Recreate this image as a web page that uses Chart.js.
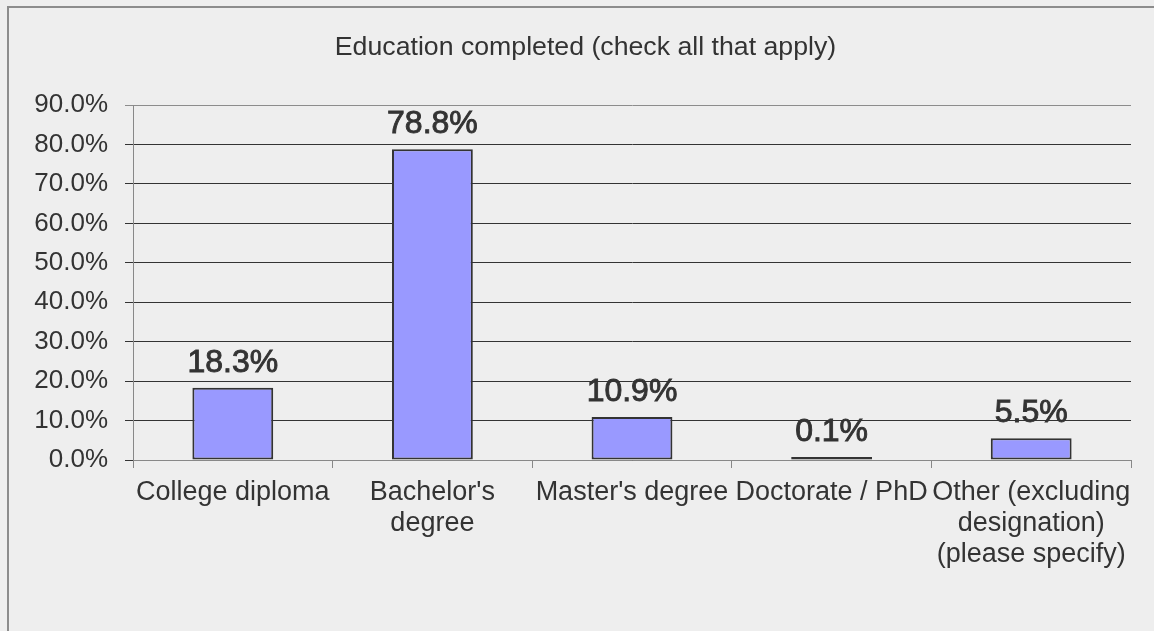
<!DOCTYPE html>
<html>
<head>
<meta charset="utf-8">
<script src="https://cdn.jsdelivr.net/npm/chart.js@4"></script>
<style>
  html, body { margin: 0; padding: 0; background: #eeeeee; }
  #wrap { position: relative; width: 1154px; height: 631px; overflow: hidden; }
  #frame { position: absolute; left: 7px; top: 6px; right: -10px; bottom: -10px;
           border-top: 2px solid #8c8c8c; border-left: 2px solid #8c8c8c; pointer-events: none; }
  canvas { position: absolute; left: 0; top: 0; }
</style>
</head>
<body>
<div id="wrap">
  <canvas id="chart" width="1154" height="631"></canvas>
  <div id="frame"></div>
</div>
<script>
const categories = [
  'College diploma',
  ["Bachelor's", 'degree'],
  "Master's degree",
  'Doctorate / PhD',
  ['Other (excluding', 'designation)', '(please specify)']
];
const percentages = [18.3, 78.8, 10.9, 0.1, 5.5];
const yTicks = [0, 10, 20, 30, 40, 50, 60, 70, 80, 90];

const textColor = '#333333';
const fontFamily = '"Liberation Sans", Arial, sans-serif';

// value labels above each bar
const barValueLabels = {
  id: 'barValueLabels',
  afterDatasetsDraw(chart) {
    const ctx = chart.ctx;
    const meta = chart.getDatasetMeta(0);
    ctx.save();
    ctx.fillStyle = textColor;
    ctx.strokeStyle = textColor;
    ctx.lineWidth = 0.9;
    ctx.font = '32px ' + fontFamily;
    ctx.textAlign = 'center';
    ctx.textBaseline = 'alphabetic';
    meta.data.forEach((bar, i) => {
      const text = percentages[i].toFixed(1) + '%';
      ctx.fillText(text, bar.x, bar.y - 16);
      ctx.strokeText(text, bar.x, bar.y - 16);
    });
    ctx.restore();
  }
};

// centre the title over the framed panel rather than the canvas minus right padding
const titleShift = {
  id: 'titleShift',
  afterLayout(chart) {
    const t = chart.titleBlock;
    if (t) { t.left += 20; t.right += 20; }
  }
};

new Chart(document.getElementById('chart'), {
  type: 'bar',
  data: {
    labels: categories,
    datasets: [{
      data: percentages,
      backgroundColor: '#9999ff',
      borderColor: '#333333',
      borderWidth: 2,
      borderSkipped: false,
      minBarLength: 3,
      barPercentage: 0.405,
      categoryPercentage: 1.0
    }]
  },
  options: {
    responsive: false,
    animation: false,
    layout: { padding: { left: 0, right: 23, top: 0, bottom: 0 } },
    plugins: {
      legend: { display: false },
      tooltip: { enabled: false },
      title: {
        display: true,
        text: 'Education completed (check all that apply)',
        color: textColor,
        font: { family: fontFamily, size: 26.7, weight: 'normal' },
        padding: { top: 32, bottom: 41 }
      }
    },
    scales: {
      x: {
        afterFit(scale) { scale.height = 171; },
        grid: {
          offset: true,
          drawOnChartArea: false,
          drawTicks: true,
          tickLength: 8,
          color: '#888888'
        },
        border: { color: '#888888', width: 1 },
        ticks: {
          color: textColor,
          font: { family: fontFamily, size: 27, lineHeight: 1.15 },
          padding: 9,
          maxRotation: 0,
          autoSkip: false
        }
      },
      y: {
        min: 0,
        max: 90,
        afterFit(scale) { scale.width = 133; },
        afterBuildTicks(scale) { scale.ticks = yTicks.map(v => ({ value: v })); },
        grid: {
          color: ctx => (ctx.tick && ctx.tick.value === 90 ? '#8c8c8c' : '#333333'),
          lineWidth: 1,
          tickLength: 8
        },
        border: { color: '#888888', width: 1 },
        ticks: {
          color: textColor,
          font: { family: fontFamily, size: 26 },
          padding: 17,
          callback: v => v.toFixed(1) + '%'
        }
      }
    }
  },
  plugins: [barValueLabels, titleShift]
});
</script>
</body>
</html>
